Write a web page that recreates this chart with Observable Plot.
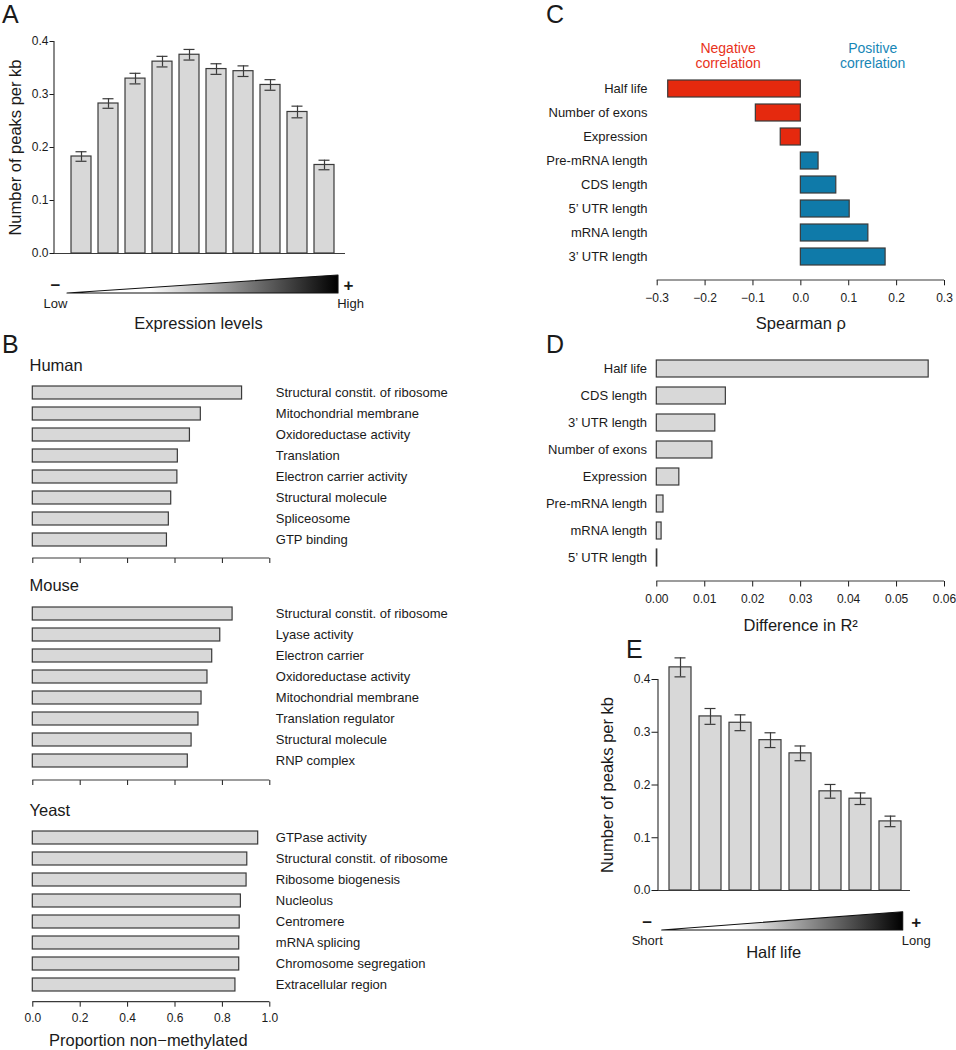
<!DOCTYPE html>
<html><head><meta charset="utf-8">
<script src="https://cdn.jsdelivr.net/npm/d3@7"></script>
<script src="https://cdn.jsdelivr.net/npm/@observablehq/plot@0.6"></script>
<style>
body{margin:0;background:#fff;}
#fig{position:relative;width:956px;height:1050px;font-family:"Liberation Sans",Arial,sans-serif;color:#1a1a1a;background:#fff;overflow:hidden;}
.lab{position:absolute;font-size:25px;line-height:25px;}
</style></head><body><div id="fig"></div>
<script>
// ---------- DATA ----------
const exprBins = ["1","2","3","4","5","6","7","8","9","10"];
const exprPeaks = [0.183, 0.283, 0.330, 0.362, 0.375, 0.348, 0.344, 0.318, 0.267, 0.167];
const exprErr   = [0.009, 0.009, 0.010, 0.010, 0.010, 0.010, 0.010, 0.010, 0.011, 0.009];

const featC = ["Half life","Number of exons","Expression","Pre-mRNA length","CDS length","5’ UTR length","mRNA length","3’ UTR length"];
const rhoC  = [-0.277, -0.094, -0.042, 0.037, 0.074, 0.102, 0.141, 0.177];

const featD = ["Half life","CDS length","3’ UTR length","Number of exons","Expression","Pre-mRNA length","mRNA length","5’ UTR length"];
const r2D   = [0.0567, 0.0144, 0.0122, 0.0116, 0.0047, 0.0014, 0.0010, 0.0001];

const hlBins  = ["1","2","3","4","5","6","7","8"];
const hlPeaks = [0.423, 0.330, 0.318, 0.285, 0.260, 0.188, 0.174, 0.131];
const hlErr   = [0.018, 0.015, 0.015, 0.014, 0.014, 0.013, 0.011, 0.010];

const humanTerms = ["Structural constit. of ribosome","Mitochondrial membrane","Oxidoreductase activity","Translation","Electron carrier activity","Structural molecule","Spliceosome","GTP binding"];
const humanVals  = [0.883, 0.709, 0.663, 0.612, 0.610, 0.584, 0.574, 0.566];
const mouseTerms = ["Structural constit. of ribosome","Lyase activity","Electron carrier","Oxidoreductase activity","Mitochondrial membrane","Translation regulator","Structural molecule","RNP complex"];
const mouseVals  = [0.843, 0.791, 0.757, 0.737, 0.712, 0.699, 0.670, 0.654];
const yeastTerms = ["GTPase activity","Structural constit. of ribosome","Ribosome biogenesis","Nucleolus","Centromere","mRNA splicing","Chromosome segregation","Extracellular region"];
const yeastVals  = [0.951, 0.905, 0.902, 0.878, 0.873, 0.871, 0.871, 0.855];

const propTicks = [0, 0.2, 0.4, 0.6, 0.8, 1.0];
const peakTicks = [0, 0.1, 0.2, 0.3, 0.4];
const rhoTicks  = [-0.3, -0.2, -0.1, 0, 0.1, 0.2, 0.3];
const r2Ticks   = [0, 0.01, 0.02, 0.03, 0.04, 0.05, 0.06];

// ---------- STYLE ----------
const FONT = '"Liberation Sans", Arial, sans-serif';
const INK = "#1a1a1a", EDGE = "#3a3a3a", BAR = "#d8d8d8";
const RED = "#e5290e", BLUE = "#0f7aa9", REDTXT = "#e8321b", BLUETXT = "#1786b6";
const baseStyle = {fontFamily: FONT, fontSize: "12px", color: INK, background: "none", overflow: "visible"};
const NS = "http://www.w3.org/2000/svg";
const fig = document.getElementById("fig");

function place(svg, left, top) {
  svg.style.position = "absolute"; svg.style.left = left + "px"; svg.style.top = top + "px";
  fig.appendChild(svg);
}
function mkLine(a) {
  const l = document.createElementNS(NS, "line");
  for (const k in a) l.setAttribute(k, a[k]);
  return l;
}
function vAxisLine(v0, v1) {
  return (index, scales, values, dims) => mkLine({x1: dims.marginLeft, x2: dims.marginLeft,
    y1: scales.y(v0), y2: scales.y(v1), stroke: EDGE, "stroke-width": 1.2});
}
function hAxisLine(v0, v1) {
  return (index, scales, values, dims) => {
    const y = dims.height - dims.marginBottom;
    return mkLine({x1: scales.x(v0), x2: scales.x(v1), y1: y, y2: y, stroke: EDGE, "stroke-width": 1.2});
  };
}
function addGrad(svg, id) {
  const defs = d3.select(svg).insert("defs", ":first-child");
  const g = defs.append("linearGradient").attr("id", id).attr("x1", "0").attr("x2", "1").attr("y1", "0").attr("y2", "0");
  g.append("stop").attr("offset", "0").attr("stop-color", "#ffffff");
  g.append("stop").attr("offset", "0.3").attr("stop-color", "#ffffff");
  g.append("stop").attr("offset", "1").attr("stop-color", "#000000");
}
function letter(t, left, top) {
  const d = document.createElement("div"); d.className = "lab"; d.textContent = t;
  d.style.left = left + "px"; d.style.top = top + "px"; fig.appendChild(d);
}

// ---------- bar chart with error bars (A, E) ----------
function peakBars(bins, vals, errs, o) {
  const data = bins.map((k, i) => ({k, v: vals[i], e: errs[i]}));
  return Plot.plot({
    width: o.width, height: o.height, marginLeft: o.mL, marginRight: o.mR, marginTop: o.mT, marginBottom: o.mB,
    style: baseStyle,
    x: {type: "band", domain: bins, range: o.xr, paddingInner: o.pad, paddingOuter: o.pad / 2},
    y: {domain: [0, 0.4]},
    marks: [
      Plot.barY(data, {x: "k", y: "v", fill: BAR, stroke: EDGE, strokeWidth: 1.2}),
      Plot.ruleX(data, {x: "k", y1: d => d.v - d.e, y2: d => d.v + d.e, stroke: EDGE, strokeWidth: 1.2}),
      Plot.tickY(data, {x: "k", y: d => d.v - d.e, insetLeft: o.cap, insetRight: o.cap, stroke: EDGE, strokeWidth: 1.2}),
      Plot.tickY(data, {x: "k", y: d => d.v + d.e, insetLeft: o.cap, insetRight: o.cap, stroke: EDGE, strokeWidth: 1.2}),
      Plot.ruleY([0], {stroke: EDGE, strokeWidth: 1.2}),
      Plot.axisX({ticks: [], label: null}),
      Plot.axisY({ticks: peakTicks, tickFormat: ".1f", tickSize: o.tick, tickPadding: 1.5, fontSize: 12, label: null}),
      vAxisLine(0, 0.4),
      Plot.text(["Number of peaks per kb"], {frameAnchor: "left", textAnchor: "middle", lineAnchor: "middle", rotate: -90, dx: o.titleDx, fontSize: 16.5})
    ]
  });
}
function gradLegend(o) {
  const svg = Plot.plot({
    width: o.width, height: o.height, marginLeft: o.mL, marginRight: o.mR, marginTop: o.mT, marginBottom: o.mB,
    style: baseStyle,
    x: {domain: [0, 1], axis: null}, y: {domain: [0, 1], axis: null},
    marks: [
      Plot.areaY([0, 1], {x: d => d, y1: 0, y2: d => d, fill: `url(#${o.id})`, stroke: "#111", strokeWidth: 1.1}),
      Plot.text(["−"], {x: 0, y: 0, dx: o.minusDx, dy: -8, fontSize: 17, fontWeight: "bold"}),
      Plot.text(["+"], {x: 1, y: 0, dx: o.plusDx, dy: -8, fontSize: 17, fontWeight: "bold"}),
      Plot.text([o.lo], {x: 0, y: 0, dx: o.minusDx, dy: 10, fontSize: 13}),
      Plot.text([o.hi], {x: 1, y: 0, dx: o.hiDx, dy: 10, fontSize: 13}),
      Plot.text([o.title], {x: 0.5, y: 0, dx: o.titleDx, dy: o.titleDy, fontSize: 16.5})
    ]
  });
  addGrad(svg, o.id);
  return svg;
}

// ---------- Panel A ----------
place(peakBars(exprBins, exprPeaks, exprErr, {width: 360, height: 262, mL: 54, mR: 15, mT: 41, mB: 9,
  xr: [64.2, 340.8], pad: 0.275, cap: 4.5, tick: 4.5, titleDx: -38.5}), 0, 0);
place(gradLegend({id: "gA", width: 360, height: 75, mL: 67, mR: 22, mT: 13, mB: 44,
  lo: "Low", hi: "High", title: "Expression levels", minusDx: -12, plusDx: 10, hiDx: 12, titleDx: -4.5, titleDy: 30}), 0, 262);

// ---------- Panel E ----------
place(peakBars(hlBins, hlPeaks, hlErr, {width: 356, height: 260, mL: 58, mR: 46, mT: 39, mB: 10,
  xr: [63.5, 305.9], pad: 0.28, cap: 5.5, tick: 6.5, titleDx: -50.5}), 600, 640);
place(gradLegend({id: "gE", width: 356, height: 70, mL: 61.7, mR: 53.3, mT: 11.7, mB: 40,
  lo: "Short", hi: "Long", title: "Half life", minusDx: -15, plusDx: 13, hiDx: 13, titleDx: -9, titleDy: 22}), 600, 900);

// ---------- Panel C ----------
{
  const data = featC.map((f, i) => ({f, v: rhoC[i]}));
  place(Plot.plot({
    width: 416, height: 335, marginLeft: 116.7, marginRight: 12, marginTop: 30, marginBottom: 55,
    style: baseStyle,
    x: {domain: [-0.3, 0.3]},
    y: {type: "band", domain: featC, range: [76.75, 267.75], paddingInner: 0.295, paddingOuter: 0},
    marks: [
      Plot.barX(data, {filter: d => d.v < 0, x: "v", y: "f", fill: RED, stroke: EDGE, strokeWidth: 1.2}),
      Plot.barX(data, {filter: d => d.v >= 0, x: "v", y: "f", fill: BLUE, stroke: EDGE, strokeWidth: 1.2}),
      Plot.axisY({tickSize: 0, tickPadding: 9.7, fontSize: 13, label: null}),
      Plot.axisX({ticks: rhoTicks, tickFormat: ".1f", tickSize: 5.3, tickPadding: 7.5, fontSize: 12, label: null}),
      hAxisLine(-0.3, 0.3),
      Plot.text(["Negative\ncorrelation"], {x: -0.152, frameAnchor: "top", lineAnchor: "middle", dy: 25.5, fill: REDTXT, fontSize: 14, lineHeight: 1.07}),
      Plot.text(["Positive\ncorrelation"], {x: 0.15, frameAnchor: "top", lineAnchor: "middle", dy: 25.5, fill: BLUETXT, fontSize: 14, lineHeight: 1.07}),
      Plot.text(["Spearman ρ"], {frameAnchor: "bottom", lineAnchor: "middle", dy: 43, fontSize: 16.5})
    ]
  }), 540, 0);
}

// ---------- Panel D ----------
{
  const data = featD.map((f, i) => ({f, v: r2D[i]}));
  place(Plot.plot({
    width: 416, height: 305, marginLeft: 116.3, marginRight: 12, marginTop: 20, marginBottom: 54,
    style: baseStyle,
    x: {domain: [0, 0.06]},
    y: {type: "band", domain: featD, range: [26.75, 238.75], paddingInner: 0.37, paddingOuter: 0},
    marks: [
      Plot.barX(data, {x: "v", y: "f", fill: BAR, stroke: EDGE, strokeWidth: 1.2}),
      Plot.axisY({tickSize: 0, tickPadding: 9.7, fontSize: 13, label: null}),
      Plot.axisX({ticks: r2Ticks, tickFormat: ".2f", tickSize: 5.5, tickPadding: 7.5, fontSize: 12, label: null}),
      hAxisLine(0, 0.06),
      Plot.text(["Difference in R²"], {frameAnchor: "bottom", lineAnchor: "middle", dy: 44, fontSize: 16.5})
    ]
  }), 540, 330);
}

// ---------- Panel B ----------
function speciesPlot(name, terms, vals, o) {
  const data = terms.map((t, i) => ({t, v: vals[i]}));
  return Plot.plot({
    width: 480, height: o.height, marginLeft: 32.3, marginRight: 210.7, marginTop: 25, marginBottom: o.mB,
    style: baseStyle,
    x: {domain: [0, 1]},
    y: {type: "band", domain: terms, range: o.yr, paddingInner: 0.38, paddingOuter: 0},
    marks: [
      Plot.barX(data, {x: "v", y: "t", fill: BAR, stroke: EDGE, strokeWidth: 1.2}),
      Plot.axisY({anchor: "right", tickSize: 0, tickPadding: 6, fontSize: 13, label: null}),
      Plot.axisX({ticks: propTicks, tickSize: 5, tickPadding: 6, tickFormat: o.labels ? ".1f" : () => "", fontSize: 12, label: null}),
      hAxisLine(0, 1),
      Plot.text([name], {frameAnchor: "top-left", dx: -3.3, textAnchor: "start", lineAnchor: "middle", fontSize: 16.5}),
      o.labels ? Plot.text(["Proportion non−methylated"], {frameAnchor: "bottom", lineAnchor: "middle", dx: -3, dy: 38.3, fontSize: 16.5}) : null
    ].filter(Boolean)
  });
}
place(speciesPlot("Human", humanTerms, humanVals, {height: 230, mB: 12, yr: [44.35, 207.95], labels: false}), 0, 340);
place(speciesPlot("Mouse", mouseTerms, mouseVals, {height: 232, mB: 12, yr: [44.05, 210.65], labels: false}), 0, 560);
place(speciesPlot("Yeast", yeastTerms, yeastVals, {height: 265, mB: 48.3, yr: [43.65, 207.65], labels: true}), 0, 785);

// ---------- panel letters ----------
letter("A", 2, 2);
letter("B", 2, 332);
letter("C", 546, 2);
letter("D", 546, 332);
letter("E", 626, 637);
</script></body></html>
